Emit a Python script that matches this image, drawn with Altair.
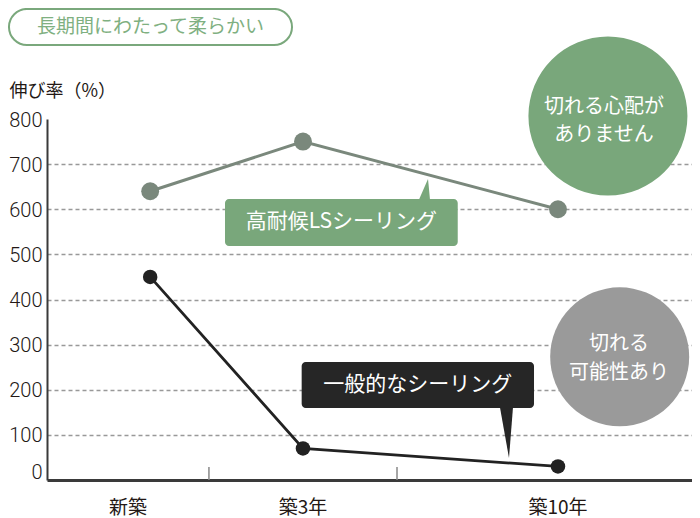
import altair as alt
import pandas as pd

# ---------------- data ----------------
ages = ["新築", "築3年", "築10年"]
age_x = [15.8, 39.2, 78.25]          # position of each age on the horizontal scale
age_label_x = [12.4, 39.2, 78.25]    # where the age captions sit
age_dividers = [24.8, 53.6]          # small separators on the baseline
ls_elong = [640, 750, 600]           # 高耐候LSシーリング
general_elong = [450, 70, 30]        # 一般的なシーリング
y_ticks = [0, 100, 200, 300, 400, 500, 600, 700, 800]

headline = "長期間にわたって柔らかい"
y_title = "伸び率（%）"
ls_name = "高耐候LSシーリング"
general_name = "一般的なシーリング"
ls_note = ["切れる心配が", "ありません"]
general_note = ["切れる", "可能性あり"]

# annotation anchors, in chart units (x: scale units, y: elongation %)
headline_box_x = [-5.82, 37.52]
headline_box_y = [964.1, 1043.9]
headline_text_xy = [15.85, 1004.0]
caption_y = -62.0
divider_y = [0, 29]

ls_box_x = [27.26, 62.9]
ls_box_y = [518.6, 622.7]
ls_ptr_x = [56.97, 58.35, 58.65]
ls_ptr_y = [621.5, 667.0, 621.5]

gen_box_x = [39.0, 74.58]
gen_box_y = [159.6, 261.5]
gen_ptr_x = [69.37, 70.75, 71.36]
gen_ptr_y = [160.5, 48.8, 160.5]

ls_bubble_xy = [85.9, 806.7]
ls_note_x = 85.3
ls_note_y = [826.7, 764.6]
gen_bubble_xy = [87.7, 273.0]
gen_note_x = 87.6
gen_note_y = [301.4, 238.2]

# ---------------- styles ----------------
JP = "Noto Sans CJK JP"
INK = "#231815"
GREEN = "#79a77b"
LS_LINE = "#7a887c"
DARK = "#262626"
GREY_BUBBLE = "#9a9a9a"

ls_df = pd.DataFrame({"x": age_x, "y": ls_elong, "age": ages})
gen_df = pd.DataFrame({"x": age_x, "y": general_elong, "age": ages})

x_scale = alt.Scale(domain=[0, 98.775], nice=False, zero=False)
y_scale = alt.Scale(domain=[0, 800], nice=False)

x_axis = alt.Axis(title=None, labels=False, ticks=False, grid=False,
                  domainColor="#3a3a3a", domainWidth=3)
y_axis = alt.Axis(
    values=y_ticks, title=y_title, titleAngle=0, titleAlign="left",
    titleBaseline="middle", titleX=-38, titleY=-28, titleFont=JP,
    titleFontSize=18, titleFontWeight="normal", titleColor=INK,
    labelFont="Roboto", labelFontSize=20, labelFontWeight=300, labelColor=INK,
    labelPadding=5, ticks=False, tickSize=0,
    labelOffset={"condition": {"test": "datum.value == 0", "value": -8}, "value": 1},
    domainColor="#3a3a3a", domainWidth=2,
    grid=True, gridColor="#999999", gridWidth=1.5, gridDash=[4, 3],
    gridOpacity={"condition": {"test": "datum.value == 0 || datum.value == 800", "value": 0}, "value": 1},
)

X = lambda: alt.X("x:Q")
Y = lambda: alt.Y("y:Q", stack=None)

# line layers (carry the axes)
ls_line = alt.Chart(ls_df).mark_line(color=LS_LINE, strokeWidth=3).encode(
    x=alt.X("x:Q", scale=x_scale, axis=x_axis),
    y=alt.Y("y:Q", scale=y_scale, axis=y_axis),
)
ls_pts = alt.Chart(ls_df).mark_circle(color=LS_LINE, size=320, opacity=1).encode(x=X(), y=Y())
gen_line = alt.Chart(gen_df).mark_line(color="#222222", strokeWidth=2.8).encode(x=X(), y=Y())
gen_pts = alt.Chart(gen_df).mark_circle(color="#222222", size=210, opacity=1).encode(x=X(), y=Y())

# headline pill
pill_df = pd.DataFrame({"x": [headline_box_x[0]], "x2": [headline_box_x[1]],
                        "y": [headline_box_y[0]], "y2": [headline_box_y[1]]})
pill = alt.Chart(pill_df).mark_rect(fill="white", stroke="#7aa87c", strokeWidth=2,
                                    cornerRadius=18).encode(
    x=X(), x2="x2:Q", y=Y(), y2="y2:Q")
pill_text = alt.Chart(pd.DataFrame({"x": [headline_text_xy[0]], "y": [headline_text_xy[1]],
                                    "t": [headline]})).mark_text(
    font=JP, fontSize=19, color="#7fb081", align="center", baseline="middle").encode(
    x=X(), y=Y(), text="t:N")

# baseline dividers and age captions
div_df = pd.DataFrame({"x": age_dividers, "y": [divider_y[0]] * 2, "y2": [divider_y[1]] * 2})
dividers = alt.Chart(div_df).mark_rule(color="#888888", strokeWidth=1.5).encode(
    x=X(), y=Y(), y2="y2:Q")
cap_df = pd.DataFrame({"x": age_label_x, "y": [caption_y] * 3, "t": ages})
captions = alt.Chart(cap_df).mark_text(font=JP, fontSize=19, color=INK,
                                       align="center", baseline="middle").encode(
    x=X(), y=Y(), text="t:N")

# callouts
def callout(box_x, box_y, ptr_x, ptr_y, base, label, fill):
    box = alt.Chart(pd.DataFrame({"x": [box_x[0]], "x2": [box_x[1]],
                                  "y": [box_y[0]], "y2": [box_y[1]]})).mark_rect(
        fill=fill, cornerRadius=4).encode(x=X(), x2="x2:Q", y=Y(), y2="y2:Q")
    ptr = alt.Chart(pd.DataFrame({"x": ptr_x, "y": ptr_y, "y2": [base] * 3})).mark_area(
        color=fill, orient="vertical", opacity=1).encode(x=X(), y=Y(), y2="y2:Q")
    txt = alt.Chart(pd.DataFrame({"x": [(box_x[0] + box_x[1]) / 2],
                                  "y": [(box_y[0] + box_y[1]) / 2], "t": [label]})).mark_text(
        font=JP, fontSize=21, color="white", align="center", baseline="middle").encode(
        x=X(), y=Y(), text="t:N")
    return [box, ptr, txt]

ls_callout = callout(ls_box_x, ls_box_y, ls_ptr_x, ls_ptr_y, ls_ptr_y[0], ls_name, GREEN)
gen_callout = callout(gen_box_x, gen_box_y, gen_ptr_x, gen_ptr_y, gen_ptr_y[0], general_name, DARK)

# bubbles
def bubble(xy, size, fill, note_x, note_y, lines):
    c = alt.Chart(pd.DataFrame({"x": [xy[0]], "y": [xy[1]]})).mark_circle(
        color=fill, size=size, opacity=1).encode(x=X(), y=Y())
    t = alt.Chart(pd.DataFrame({"x": [note_x] * len(lines), "y": note_y, "t": lines})).mark_text(
        font=JP, fontSize=20, color="white", align="center", baseline="middle").encode(
        x=X(), y=Y(), text="t:N")
    return [c, t]

ls_bubble = bubble(ls_bubble_xy, 159 ** 2, GREEN, ls_note_x, ls_note_y, ls_note)
gen_bubble = bubble(gen_bubble_xy, 139 ** 2, GREY_BUBBLE, gen_note_x, gen_note_y, general_note)

chart = alt.layer(
    ls_line, pill, pill_text, dividers, captions,
    ls_pts, gen_line, gen_pts,
    *ls_callout, *gen_callout, *ls_bubble, *gen_bubble,
).properties(
    width=645, height=361,
    padding={"left": 39, "top": 111, "right": 0, "bottom": 38},
    autosize=alt.AutoSizeParams(type="none"),
    background="white",
).configure_view(stroke=None)

chart.save("out.html", embed_options={"renderer": "svg", "actions": False})
